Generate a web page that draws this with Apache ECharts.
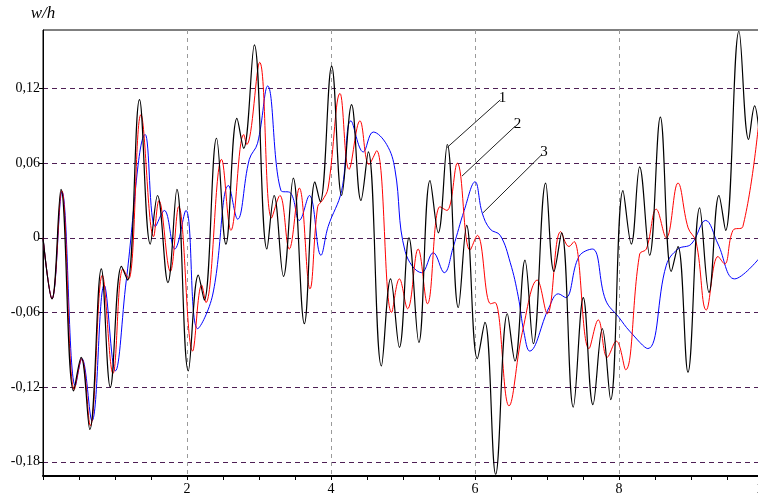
<!DOCTYPE html>
<html>
<head>
<meta charset="utf-8">
<script src="https://cdn.jsdelivr.net/npm/echarts@6/dist/echarts.min.js"></script>
<style>
  html, body { margin: 0; padding: 0; background: #fff; }
  #chart { width: 758px; height: 497px; }
</style>
</head>
<body>
<div id="chart"></div>
<script>
// extrema, [x, w/h]
const curve1 = [
  [0, 0], [0.125, -0.049], [0.25, 0.039], [0.425, -0.123], [0.53, -0.096], [0.65, -0.154],
  [0.81, -0.025], [0.935, -0.12], [1.09, -0.023], [1.175, -0.034], [1.34, 0.111], [1.49, -0.005],
  [1.59, 0.034], [1.735, -0.036], [1.86, 0.039], [2.018, -0.107], [2.157, -0.03], [2.24, -0.05],
  [2.41, 0.08], [2.54, -0.005], [2.694, 0.096], [2.787, 0.072], [2.935, 0.155], [3.11, -0.009],
  [3.21, 0.034], [3.34, -0.031], [3.476, 0.048], [3.63, -0.069], [3.777, 0.045], [3.85, 0.029],
  [4.009, 0.138], [4.148, 0.034], [4.286, 0.107], [4.416, 0.03], [4.518, 0.069], [4.7, -0.103],
  [4.828, -0.033], [4.95, -0.088], [5.083, 0.0], [5.22, -0.084], [5.375, 0.046], [5.49, 0.004],
  [5.615, 0.075], [5.768, -0.056], [5.884, 0.01], [6.032, -0.097], [6.138, -0.068], [6.287, -0.19],
  [6.449, -0.061], [6.555, -0.099], [6.694, -0.018], [6.81, -0.085], [6.981, 0.044], [7.097, -0.027],
  [7.203, 0.004], [7.365, -0.136], [7.504, -0.048], [7.638, -0.134], [7.768, -0.073], [7.884, -0.13],
  [8.055, 0.038], [8.171, -0.005], [8.287, 0.057], [8.425, -0.014], [8.574, 0.097], [8.726, -0.027],
  [8.819, -0.007], [8.958, -0.108], [9.12, 0.024], [9.25, -0.044], [9.388, 0.034], [9.481, 0.006],
  [9.666, 0.166], [9.8, 0.079], [9.884, 0.106], [9.94, 0.088]
];
const curve2 = [
  [0, 0], [0.125, -0.049], [0.259, 0.038], [0.435, -0.122], [0.537, -0.097], [0.657, -0.151],
  [0.824, -0.03], [0.972, -0.109], [1.11, -0.025], [1.19, -0.033], [1.36, 0.099], [1.536, 0.001],
  [1.61, 0.03], [1.768, -0.027], [1.884, 0.025], [2.078, -0.091], [2.203, -0.038], [2.263, -0.052],
  [2.48, 0.063], [2.61, 0.006], [2.787, 0.083], [2.83, 0.075], [3.009, 0.141], [3.175, 0.016],
  [3.29, 0.034], [3.42, -0.009], [3.56, 0.04], [3.708, -0.041], [3.815, 0.025], [3.88, 0.03],
  [3.96, 0.04], [4.125, 0.116], [4.25, 0.055], [4.402, 0.094], [4.527, 0.059], [4.634, 0.07],
  [4.842, -0.06], [4.95, -0.033], [5.064, -0.057], [5.21, -0.009], [5.34, -0.053], [5.513, 0.025],
  [5.61, 0.022], [5.754, 0.06], [5.93, -0.01], [6.032, 0.002], [6.217, -0.053], [6.277, -0.052],
  [6.472, -0.135], [6.657, -0.076], [6.865, -0.034], [7.004, -0.061], [7.19, 0.005], [7.305, -0.007],
  [7.375, -0.003], [7.583, -0.089], [7.712, -0.066], [7.837, -0.096], [7.962, -0.083], [8.092, -0.106],
  [8.287, -0.013], [8.38, -0.009], [8.518, 0.023], [8.657, 0.0], [8.819, 0.044], [8.96, 0.008],
  [9.07, -0.003], [9.212, -0.058], [9.375, -0.015], [9.467, -0.021], [9.583, 0.006], [9.72, 0.009],
  [9.94, 0.092]
];
const curve3 = [
  [0, 0], [0.125, -0.049], [0.263, 0.037], [0.449, -0.119], [0.54, -0.097], [0.68, -0.147],
  [0.85, -0.038], [1.004, -0.107], [1.157, -0.034], [1.42, 0.083], [1.56, 0.009], [1.685, 0.022],
  [1.83, -0.009], [1.985, 0.022], [2.148, -0.073], [2.356, -0.046], [2.578, 0.042], [2.703, 0.015],
  [2.865, 0.063], [2.98, 0.076], [3.12, 0.122], [3.305, 0.038], [3.44, 0.036], [3.56, 0.014],
  [3.7, 0.034], [3.86, -0.014], [3.96, 0.009], [4.148, 0.038], [4.277, 0.094], [4.448, 0.069],
  [4.587, 0.085], [4.773, 0.075], [4.888, 0.055], [5.03, -0.011], [5.259, -0.028], [5.42, -0.012],
  [5.573, -0.028], [5.7, -0.007], [5.85, 0.022], [6.0, 0.045], [6.1, 0.02], [6.21, 0.007],
  [6.35, 0.002], [6.49, -0.02], [6.6, -0.047], [6.68, -0.076], [6.759, -0.091], [7.027, -0.056],
  [7.157, -0.045], [7.259, -0.048], [7.444, -0.015], [7.63, -0.009], [7.814, -0.05], [8.0, -0.064],
  [8.148, -0.075], [8.4, -0.089], [8.657, -0.022], [8.819, -0.009], [9.004, -0.005], [9.203, 0.014],
  [9.375, -0.005], [9.606, -0.033], [9.94, -0.017]
];
const yTicks = [-0.18, -0.12, -0.06, 0, 0.06, 0.12];
const curveNames = ['1', '2', '3'];
// leader lines from each curve to its number
const leaders = [
  [[5.611, 0.0725], [6.351, 0.1108]],
  [[5.819, 0.0496], [6.56, 0.0898]],
  [[6.111, 0.0201], [6.93, 0.067]]
];
const colors = ['#000000', '#ff0000', '#0000ff'];

const serif = '"Liberation Serif", "DejaVu Serif", serif';

const chart = echarts.init(document.getElementById('chart'));

const series = [curve1, curve2, curve3].map((data, i) => ({
  type: 'line',
  name: curveNames[i],
  data: data,
  smooth: 0.4,
  showSymbol: false,
  z: 10 - i,
  lineStyle: { color: colors[i], width: i === 0 ? 1.2 : 1 },
  markLine: {
    silent: true,
    symbol: 'none',
    lineStyle: { color: '#222', width: 1, type: 'solid' },
    label: {
      show: true,
      position: 'end',
      formatter: curveNames[i],
      color: '#000',
      fontFamily: serif,
      fontSize: 15,
      distance: 3
    },
    data: [[{ coord: leaders[i][0] }, { coord: leaders[i][1] }]]
  }
}));

const option = {
  animation: false,
  backgroundColor: '#fff',
  grid: {
    left: 43, right: -5, top: 30, bottom: 21,
    outerBoundsMode: 'none',
    show: true, borderColor: '#000', borderWidth: 1
  },
  xAxis: {
    type: 'value',
    min: 0, max: 10, interval: 2,
    axisLine: { show: true, onZero: false, lineStyle: { color: '#000', width: 2 } },
    axisTick: { show: true, length: 4, lineStyle: { color: '#000' } },
    minorTick: { show: true, splitNumber: 4, length: 4, lineStyle: { color: '#000' } },
    axisLabel: {
      showMinLabel: false,
      margin: 6,
      color: '#000',
      fontFamily: serif,
      fontSize: 14
    },
    splitLine: { show: true, lineStyle: { color: '#9a9a9a', type: [4, 4], width: 1 } }
  },
  yAxis: {
    type: 'value',
    min: -0.1914, max: 0.167,
    name: 'w/h',
    nameLocation: 'end',
    nameGap: 8,
    nameTextStyle: { fontFamily: serif, fontStyle: 'italic', fontSize: 17, color: '#000' },
    axisLine: { show: true, onZero: false, lineStyle: { color: '#000', width: 1 } },
    axisTick: { show: true, length: 4, customValues: yTicks, lineStyle: { color: '#000' } },
    axisLabel: {
      customValues: yTicks,
      margin: 3,
      color: '#000',
      fontFamily: serif,
      fontSize: 14,
      formatter: v => (v === 0 ? '0' : v.toFixed(2).replace('.', ','))
    },
    splitLine: { show: true, lineStyle: { color: '#4e1f55', type: [5, 4], width: 1 } }
  },
  series: series
};

chart.setOption(option);
</script>
</body>
</html>
